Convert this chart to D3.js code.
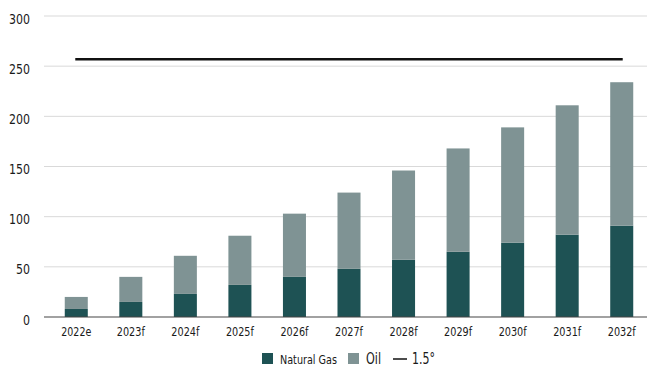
<!DOCTYPE html>
<html><head><meta charset="utf-8">
<script src="https://cdn.jsdelivr.net/npm/d3@7"></script>
<style>
html,body{margin:0;padding:0;background:#fff;}
svg text{font-family:"DejaVu Sans Condensed","Liberation Sans Narrow",sans-serif;fill:#1a1a1a;}
</style></head>
<body><svg id="c" width="647" height="369"></svg>
<script>
const categories = ["2022e","2023f","2024f","2025f","2026f","2027f","2028f","2029f","2030f","2031f","2032f"];
const naturalGas = [8,15,23,32,40,48,57,65,74,82,91];
const oil = [12,25,38,49,63,76,89,103,115,129,143];
const target15 = 257;
const yTicks = [0,50,100,150,200,250,300];

(function(){
const FONT = '"DejaVu Sans Condensed","Liberation Sans Narrow",sans-serif';
const svg = d3.select("#c");
const mLeft = 44, mRight = 647, mTop = 16, mBottom = 317;
const x = d3.scaleBand().domain(categories).range([49, 649]).paddingInner(0.578).paddingOuter(0.289);
const y = d3.scaleLinear().domain([0,300]).range([mBottom, mTop]);

svg.append("g").selectAll("line").data(yTicks.filter(d=>d>0)).join("line")
  .attr("x1", mLeft).attr("x2", mRight).attr("y1", d=>y(d)).attr("y2", d=>y(d))
  .attr("stroke", "#d9d9d9").attr("stroke-width", 1);

const yAxis = d3.axisLeft(y).tickValues(yTicks).tickSize(0).tickPadding(0);
const ya = svg.append("g").attr("transform", "translate(30,2)").call(yAxis);
ya.select(".domain").remove();
ya.selectAll("text").attr("font-size", 14).attr("fill", "#1a1a1a").attr("dy", "0.36em")
  .style("font-family", FONT)
  .attr("textLength", d => String(d).length * 7).attr("lengthAdjust", "spacingAndGlyphs");

const stack = categories.map((c,i)=>({c, gas: naturalGas[i], oil: oil[i]}));
svg.append("g").selectAll("rect").data(stack).join("rect")
  .attr("x", d=>x(d.c)).attr("width", x.bandwidth())
  .attr("y", d=>y(d.gas)).attr("height", d=>y(0)-y(d.gas)).attr("fill", "#1e5254");
svg.append("g").selectAll("rect").data(stack).join("rect")
  .attr("x", d=>x(d.c)).attr("width", x.bandwidth())
  .attr("y", d=>y(d.gas+d.oil)).attr("height", d=>y(d.gas)-y(d.gas+d.oil)).attr("fill", "#7f9394");

svg.append("line").attr("x1", mLeft).attr("x2", mRight).attr("y1", y(0)).attr("y2", y(0))
  .attr("stroke", "#444").attr("stroke-width", 1.2);

const xAxis = d3.axisBottom(x).tickSize(0).tickPadding(0);
const xa = svg.append("g").attr("transform", `translate(0,${y(0)+14.5})`).call(xAxis);
xa.select(".domain").remove();
xa.selectAll("text").attr("font-size", 13).attr("fill", "#1a1a1a").attr("dy", "0.36em")
  .style("font-family", FONT)
  .attr("textLength", d => d.endsWith("e") ? 30 : 28).attr("lengthAdjust", "spacingAndGlyphs");

svg.append("line")
  .attr("x1", x(categories[0]) + x.bandwidth()/2 - 1)
  .attr("x2", x(categories[categories.length-1]) + x.bandwidth()/2 + 1)
  .attr("y1", y(target15)).attr("y2", y(target15))
  .attr("stroke", "#111").attr("stroke-width", 2.5);

const lg = svg.append("g");
lg.append("rect").attr("x", 262).attr("y", 353).attr("width", 11).attr("height", 11).attr("fill", "#1e5254");
lg.append("text").attr("x", 280).attr("y", 364).attr("font-size", 13).style("font-family", FONT)
  .attr("textLength", 57).attr("lengthAdjust", "spacingAndGlyphs").text("Natural Gas");
lg.append("rect").attr("x", 348).attr("y", 353).attr("width", 11).attr("height", 11).attr("fill", "#7f9394");
lg.append("text").attr("x", 366).attr("y", 364).attr("font-size", 16).style("font-family", FONT)
  .attr("textLength", 15).attr("lengthAdjust", "spacingAndGlyphs").text("Oil");
lg.append("line").attr("x1", 393).attr("x2", 407).attr("y1", 359).attr("y2", 359).attr("stroke", "#111").attr("stroke-width", 1.5);
lg.append("text").attr("x", 412).attr("y", 364).attr("font-size", 16).style("font-family", FONT)
  .attr("textLength", 23).attr("lengthAdjust", "spacingAndGlyphs").text("1.5°");
})();
</script></body></html>
